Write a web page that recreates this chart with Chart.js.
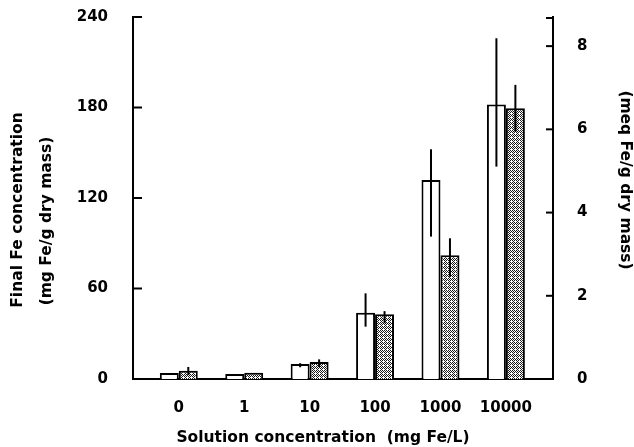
<!DOCTYPE html>
<html>
<head>
<meta charset="utf-8">
<script src="https://cdn.jsdelivr.net/npm/chart.js@4.4.1/dist/chart.umd.min.js"></script>
<style>
  html, body { margin: 0; padding: 0; background: #fff; }
  #wrap { width: 634px; height: 447px; }
</style>
</head>
<body>
<div id="wrap"><canvas id="feChart" width="634" height="447"></canvas></div>
<script>
// solution concentrations (mg Fe/L)
const categories = ['0', '1', '10', '100', '1000', '10000'];

// open (white) bars, mg Fe/g dry mass
const openValues = [4, 3.3, 10, 44, 132, 182];
const openErrLow = [4, 3.3, 7.8, 34.7, 94.4, 140.8];
const openErrHigh = [4, 3.3, 10.5, 56.8, 152.3, 225.9];

// shaded (stippled) bars
const shadedValues = [5.5, 4.2, 11.2, 43, 82, 179.5];
const shadedErrLow = [2.6, 4.2, 8, 37, 67.8, 164];
const shadedErrHigh = [8, 4.2, 13, 45, 93.3, 195];

const leftTicks = [0, 60, 120, 180, 240];
const rightTicks = [0, 2, 4, 6, 8];

const xTitle = 'Solution concentration  (mg Fe/L)';
const leftTitle = ['Final Fe concentration', '(mg Fe/g dry mass)'];
const rightTitle = '(meq Fe/g dry mass)';

const FONT = "'DejaVu Sans', sans-serif";
const tickFont = { family: FONT, size: 15, weight: 'bold' };

function makeStipple() {
    const c = document.createElement('canvas');
    c.width = 4; c.height = 4;
    const g = c.getContext('2d');
    g.fillStyle = '#ffffff';
    g.fillRect(0, 0, 4, 4);
    g.fillStyle = '#1a1a1a';
    [[0, 0], [2, 0], [1, 1], [0, 2], [2, 2], [3, 3], [1, 3]].forEach(p => g.fillRect(p[0], p[1], 1, 1));
    return g.createPattern(c, 'repeat');
}

const ctx = document.getElementById('feChart').getContext('2d');

//..vertical error lines, no caps
const errorBars = {
    id: 'errorBars',
    afterDatasetsDraw(chart) {
        const c = chart.ctx;
        const y = chart.scales.y;
        const sets = [[openErrLow, openErrHigh], [shadedErrLow, shadedErrHigh]];
        c.save();
        c.strokeStyle = '#000';
        c.lineWidth = 2;
        sets.forEach((pair, d) => {
            const meta = chart.getDatasetMeta(d);
            meta.data.forEach((bar, i) => {
                const lo = pair[0][i], hi = pair[1][i];
                if (lo === hi) return;
                c.beginPath();
                c.moveTo(bar.x, y.getPixelForValue(lo));
                c.lineTo(bar.x, y.getPixelForValue(hi));
                c.stroke();
            });
        });
        c.restore();
    }
};

//..tick marks pointing into the plot
const innerTicks = {
    id: 'innerTicks',
    afterDraw(chart) {
        const c = chart.ctx;
        const { left, right, top } = chart.chartArea;
        c.save();
        c.strokeStyle = '#000';
        c.lineWidth = 2;
        chart.scales.y.ticks.forEach(t => {
            const py = chart.scales.y.getPixelForValue(t.value);
            c.beginPath(); c.moveTo(left, py); c.lineTo(left + 9, py); c.stroke();
        });
        const y2 = chart.scales.y2;
        y2.ticks.map(t => y2.getPixelForValue(t.value)).concat([top + 1]).forEach(py => {
            c.beginPath(); c.moveTo(right, py); c.lineTo(right - 7, py); c.stroke();
        });
        c.restore();
    }
};

const axisTitles = {
    id: 'axisTitles',
    afterDraw(chart) {
        const c = chart.ctx;
        const { left, right, top, bottom } = chart.chartArea;
        c.save();
        c.fillStyle = '#000';
        c.font = `bold 15.5px ${FONT}`;
        c.textAlign = 'center';
        c.textBaseline = 'middle';
        c.fillText(xTitle, (left + right) / 2 - 20, bottom + 59);

        c.save();
        c.translate(18, (top + bottom) / 2 + 12);
        c.rotate(-Math.PI / 2);
        c.fillText(leftTitle[0], 0, 0);
        c.restore();

        c.save();
        c.translate(47, (top + bottom) / 2 + 23);
        c.rotate(-Math.PI / 2);
        c.fillText(leftTitle[1], 0, 0);
        c.restore();

        c.save();
        c.translate(625, (top + bottom) / 2 - 18);
        c.rotate(Math.PI / 2);
        c.fillText(rightTitle, 0, 0);
        c.restore();

        c.restore();
    }
};

// fixed box sizes so the plot lands where the original axes are
function fixVertical(width) {
    return s => { s.width = width; s.paddingTop = 0; s.paddingBottom = 0; };
}

new Chart(ctx, {
    type: 'bar',
    data: {
        datasets: [
            {
                label: 'open',
                data: openValues.map((v, i) => ({ x: i, y: v })),
                backgroundColor: '#ffffff',
                borderColor: '#000',
                borderWidth: 2,
                yAxisID: 'y'
            },
            {
                label: 'shaded',
                data: shadedValues.map((v, i) => ({ x: i, y: v })),
                backgroundColor: makeStipple(),
                borderColor: '#000',
                borderWidth: 2,
                yAxisID: 'y'
            }
        ]
    },
    options: {
        responsive: false,
        animation: false,
        devicePixelRatio: 1,
        layout: { padding: { top: 17, left: 0, right: 0, bottom: 0 } },
        categoryPercentage: 0.58,
        barPercentage: 1,
        plugins: {
            legend: { display: false },
            tooltip: { enabled: false }
        },
        scales: {
            x: {
                type: 'linear',
                position: 'bottom',
                offset: false,
                min: -0.7,
                max: 5.72,
                grid: { display: false, drawTicks: false, offset: false },
                border: { display: true, color: '#000', width: 2 },
                afterBuildTicks: s => { s.ticks = categories.map((c, i) => ({ value: i })); },
                afterFit: s => { s.height = 68; s.paddingLeft = 0; s.paddingRight = 0; },
                ticks: {
                    color: '#000',
                    font: tickFont,
                    padding: 20,
                    maxRotation: 0,
                    autoSkip: false,
                    callback: v => categories[v]
                }
            },
            y: {
                position: 'left',
                min: 0,
                max: 240,
                grid: { display: false, drawTicks: false },
                border: { display: true, color: '#000', width: 2 },
                afterBuildTicks: s => { s.ticks = leftTicks.map(v => ({ value: v })); },
                afterFit: fixVertical(133),
                ticks: { color: '#000', font: tickFont, padding: 25 }
            },
            y2: {
                position: 'right',
                min: 0,
                max: 8.7,
                grid: { display: false, drawTicks: false },
                border: { display: true, color: '#000', width: 2 },
                afterBuildTicks: s => { s.ticks = rightTicks.map(v => ({ value: v })); },
                afterFit: fixVertical(81),
                ticks: { color: '#000', font: tickFont, padding: 24 }
            }
        }
    },
    plugins: [errorBars, innerTicks, axisTitles]
});
</script>
</body>
</html>
